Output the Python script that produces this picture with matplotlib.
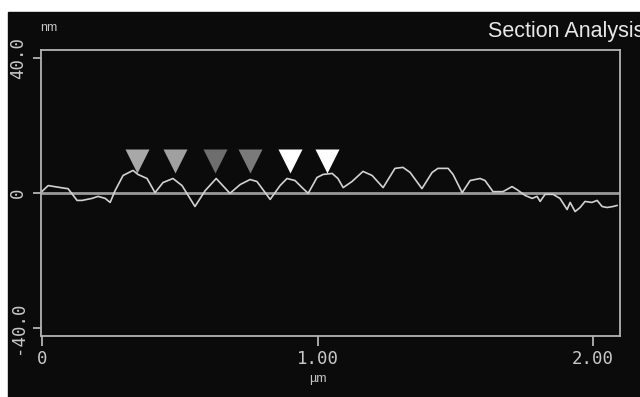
import matplotlib
matplotlib.use('Agg')
import matplotlib.pyplot as plt
from matplotlib.patches import Rectangle
import numpy as np

# section profile (um, nm)
pos_um = [0.0, 0.022, 0.083, 0.094, 0.127, 0.145, 0.181, 0.203, 0.229, 0.247,
          0.265, 0.294, 0.330, 0.348, 0.381, 0.410, 0.439, 0.475, 0.508, 0.555,
          0.592, 0.632, 0.682, 0.719, 0.755, 0.780, 0.828, 0.864, 0.889, 0.918,
          0.944, 0.966, 0.998, 1.020, 1.053, 1.074, 1.093, 1.125, 1.165, 1.198,
          1.238, 1.281, 1.310, 1.336, 1.379, 1.416, 1.437, 1.474, 1.492, 1.525,
          1.554, 1.590, 1.608, 1.637, 1.673, 1.706, 1.724, 1.753, 1.779, 1.797,
          1.808, 1.826, 1.855, 1.880, 1.906, 1.917, 1.935, 1.953, 1.971, 1.996,
          2.015, 2.033, 2.051, 2.073, 2.087]
height_nm = [0.5, 2.2, 1.4, 1.3, -2.2, -2.2, -1.6, -1.0, -1.6, -2.8,
             0.7, 5.2, 6.7, 5.5, 4.3, 0.1, 3.1, 4.3, 2.2, -4.0,
             0.7, 4.3, -0.1, 2.5, 4.0, 3.4, -1.9, 2.2, 4.3, 3.7,
             1.6, -0.1, 4.6, 5.5, 5.8, 4.3, 1.6, 3.4, 6.4, 5.2,
             1.6, 7.3, 7.6, 6.1, 1.3, 6.1, 7.3, 7.3, 5.5, 0.1,
             3.7, 4.3, 3.7, 0.4, 0.4, 1.9, 1.0, -0.7, -1.6, -1.0,
             -2.5, -0.4, -0.4, -1.6, -4.9, -2.8, -5.5, -4.3, -2.5, -2.8,
             -2.2, -4.0, -4.3, -4.0, -3.7]

# cursor markers
marker_um = [0.345, 0.483, 0.628, 0.755, 0.900, 1.034]
marker_nm = 9.6
marker_colors = ['#a8a8a8', '#a0a0a0', '#6e6e6e', '#7a7a7a', '#ffffff', '#ffffff']

xticks = [0, 1.0, 2.0]
xtick_labels = ['0', '1.00', '2.00']
yticks = [-40, 0, 40]
ytick_labels = ['-40.0', '0', '40.0']

W, H = 640, 397
fig = plt.figure(figsize=(W / 100, H / 100), dpi=100, facecolor='white')
# black panel behind everything
fig.patches.append(Rectangle((8 / W, 0), 1 - 8 / W, (H - 12) / H,
                             transform=fig.transFigure, color='#0b0b0b', zorder=-10))

ax = fig.add_axes([41 / W, (H - 336) / H, (620 - 41) / W, (336 - 50) / H])
ax.set_facecolor('#0b0b0b')
frame_col = '#b4b4b4'
for s in ax.spines.values():
    s.set_color(frame_col)
    s.set_linewidth(1.3)

ax.axhline(0, color='#9a9a9a', lw=2.0, zorder=1)
ax.plot(pos_um, height_nm, color='#d2d2d2', lw=1.2, zorder=2)
for xm, c in zip(marker_um, marker_colors):
    ax.plot(xm, marker_nm, marker='v', ms=17, color=c, mec='none', zorder=3)

ax.set_xlim(-0.004, 2.098)
ax.set_ylim(-42.4, 42.4)

mono = 'DejaVu Sans Mono'
ax.set_xticks(xticks)
ax.set_xticklabels(xtick_labels, family=mono, fontsize=12.5, color='#c8c8c8')
ax.set_yticks(yticks)
ax.set_yticklabels(ytick_labels, family=mono, fontsize=12.5, color='#c8c8c8',
                   rotation=90, va='center')
ax.tick_params(axis='x', direction='out', length=7, width=1.3, color=frame_col, pad=3)
ax.tick_params(axis='y', direction='out', length=6, width=1.3, color=frame_col, pad=4)

fig.text(318 / W, 1 - 379 / H, 'µm', ha='center', va='center',
         fontsize=9, color='#c8c8c8', family='Liberation Sans')
fig.text(40 / W, 1 - 28 / H, 'nm', ha='left', va='center',
         fontsize=9, color='#c8c8c8', family='Liberation Sans')
fig.text(488 / W, 1 - 31 / H, 'Section Analysis', ha='left', va='center',
         fontsize=15.5, color='#e8e8e8', family='Liberation Sans')

fig.savefig('out.png', dpi=100, facecolor='white')
